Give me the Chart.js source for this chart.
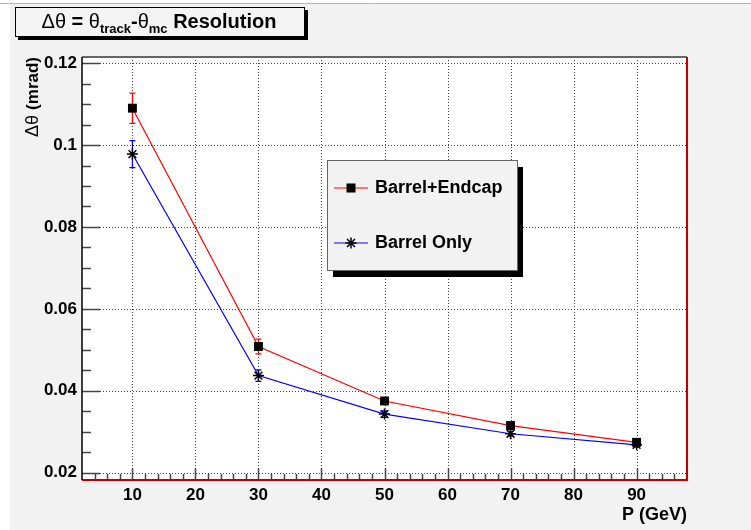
<!DOCTYPE html>
<html lang="en">
<head>
    <meta charset="UTF-8">
    <title>Theta Resolution</title>
    <script src="https://cdn.jsdelivr.net/npm/chart.js"></script>
    <style>
        body { margin: 0; background: #fff; }
        #resChart { display: block; }
    </style>
</head>
<body>
    <canvas id="resChart" width="751" height="530"></canvas>

    <script>
        // values
        const momentum = [10, 30, 50, 70, 90];
        const resBarrelEndcap = [0.1090, 0.0508, 0.0375, 0.0315, 0.0274];
        const errBarrelEndcap = [0.0037, 0.0018, 0.0007, 0.0005, 0.0004];
        const resBarrelOnly = [0.0978, 0.0437, 0.0343, 0.0295, 0.0268];
        const errBarrelOnly = [0.0033, 0.0014, 0.0008, 0.0006, 0.0005];
        const seriesLabels = ['Barrel+Endcap', 'Barrel Only'];
        const seriesColors = ['#ff0000', '#0000ff'];
        const xTicks = [10, 20, 30, 40, 50, 60, 70, 80, 90];
        const yTicks = [0.02, 0.04, 0.06, 0.08, 0.1, 0.12];

        const FONT = '"Liberation Sans", Arial, sans-serif';
        const errors = [errBarrelEndcap, errBarrelOnly];

        function drawMarker(ctx, style, x, y) {
            ctx.save();
            ctx.fillStyle = '#000';
            ctx.strokeStyle = '#000';
            ctx.lineWidth = 1.5;
            if (style === 'rect') {
                ctx.fillRect(x - 4.5, y - 4.5, 9, 9);
            } else {
                const r = 5.5;
                ctx.beginPath();
                ctx.moveTo(x - r, y); ctx.lineTo(x + r, y);
                ctx.moveTo(x, y - r); ctx.lineTo(x, y + r);
                const d = r * 0.72;
                ctx.moveTo(x - d, y - d); ctx.lineTo(x + d, y + d);
                ctx.moveTo(x - d, y + d); ctx.lineTo(x + d, y - d);
                ctx.stroke();
            }
            ctx.restore();
        }

        const rootStyle = {
            id: 'rootStyle',
            beforeDraw(chart) {
                const { ctx, chartArea: a, scales } = chart;
                const W = chart.width, H = chart.height;
                ctx.save();
                ctx.fillStyle = '#fff';
                ctx.fillRect(0, 0, W, H);
                ctx.fillStyle = '#f2f2f2';
                ctx.fillRect(10, 4, W - 10, H - 4);
                ctx.strokeStyle = '#b4b4b4';
                ctx.lineWidth = 1;
                ctx.beginPath(); ctx.moveTo(0, 3.5); ctx.lineTo(W, 3.5); ctx.stroke();

                ctx.fillStyle = '#fff';
                ctx.fillRect(a.left, a.top, a.width, a.height);

                // dotted grid
                ctx.strokeStyle = '#444';
                ctx.lineWidth = 1;
                ctx.setLineDash([1, 2]);
                xTicks.forEach(v => {
                    const px = Math.round(scales.x.getPixelForValue(v)) + 0.5;
                    ctx.beginPath(); ctx.moveTo(px, a.top); ctx.lineTo(px, a.bottom); ctx.stroke();
                });
                yTicks.forEach(v => {
                    const py = Math.round(scales.y.getPixelForValue(v)) + 0.5;
                    ctx.beginPath(); ctx.moveTo(a.left, py); ctx.lineTo(a.right, py); ctx.stroke();
                });
                ctx.restore();
            },
            beforeDatasetsDraw(chart) {
                const { ctx, scales } = chart;
                ctx.save();
                chart.data.datasets.forEach((ds, i) => {
                    ctx.strokeStyle = seriesColors[i];
                    ctx.lineWidth = 1.2;
                    ds.data.forEach((p, j) => {
                        const px = scales.x.getPixelForValue(p.x);
                        const top = scales.y.getPixelForValue(p.y + errors[i][j]);
                        const bot = scales.y.getPixelForValue(p.y - errors[i][j]);
                        ctx.beginPath();
                        ctx.moveTo(px, top); ctx.lineTo(px, bot);
                        ctx.moveTo(px - 3, top); ctx.lineTo(px + 3, top);
                        ctx.moveTo(px - 3, bot); ctx.lineTo(px + 3, bot);
                        ctx.stroke();
                    });
                });
                ctx.restore();
            },
            afterDraw(chart) {
                const { ctx, chartArea: a, scales } = chart;
                ctx.save();

                // tick marks
                ctx.strokeStyle = '#444';
                ctx.lineWidth = 1.5;
                for (let k = 4; k <= 24; k++) {
                    const py = Math.round(scales.y.getPixelForValue(k * 0.005)) + 0.5;
                    const len = k % 4 === 0 ? 18 : 9;
                    ctx.beginPath(); ctx.moveTo(a.left, py); ctx.lineTo(a.left + len, py); ctx.stroke();
                }
                for (let k = 2; k <= 48; k++) {
                    const v = k * 2;
                    const px = Math.round(scales.x.getPixelForValue(v)) + 0.5;
                    const len = v % 10 === 0 ? 12 : 6;
                    ctx.beginPath(); ctx.moveTo(px, a.bottom); ctx.lineTo(px, a.bottom - len); ctx.stroke();
                }

                // frame
                ctx.lineWidth = 2;
                ctx.strokeStyle = '#666';
                ctx.beginPath(); ctx.moveTo(a.left, a.top); ctx.lineTo(a.right, a.top); ctx.stroke();
                ctx.strokeStyle = '#c00000';
                ctx.beginPath(); ctx.moveTo(a.right, a.top); ctx.lineTo(a.right, a.bottom); ctx.lineTo(a.left, a.bottom); ctx.stroke();
                ctx.strokeStyle = '#000';
                ctx.lineWidth = 1.5;
                ctx.beginPath(); ctx.moveTo(a.left, a.top); ctx.lineTo(a.left, a.bottom); ctx.stroke();

                // legend box with shadow
                const lx = 327, ly = 160, lw = 190, lh = 110;
                ctx.fillStyle = '#000';
                ctx.fillRect(lx + 6, ly + 7, lw, lh);
                ctx.fillStyle = '#f2f2f2';
                ctx.fillRect(lx, ly, lw, lh);
                ctx.strokeStyle = '#666';
                ctx.lineWidth = 1;
                ctx.strokeRect(lx + 0.5, ly + 0.5, lw, lh);
                const rows = [188, 243];
                chart.data.datasets.forEach((ds, i) => {
                    const y = rows[i];
                    ctx.strokeStyle = seriesColors[i];
                    ctx.lineWidth = 1.2;
                    ctx.beginPath(); ctx.moveTo(334, y); ctx.lineTo(368, y); ctx.stroke();
                    drawMarker(ctx, ds.pointStyle, 351, y);
                    ctx.fillStyle = '#000';
                    ctx.font = 'bold 18px ' + FONT;
                    ctx.textAlign = 'left';
                    ctx.textBaseline = 'middle';
                    ctx.fillText(ds.label, 375, y);
                });

                // title box
                ctx.fillStyle = '#000';
                ctx.fillRect(18, 10, 290, 30);
                ctx.fillStyle = '#f4f4f4';
                ctx.fillRect(15, 7, 290, 30);
                ctx.strokeStyle = '#000';
                ctx.lineWidth = 1;
                ctx.strokeRect(15.5, 7.5, 289, 29);
                const pieces = [
                    { t: '\u0394\u03b8', f: '20px ' + FONT, dy: 0 },
                    { t: ' = ', f: 'bold 20px ' + FONT, dy: 0 },
                    { t: '\u03b8', f: '20px ' + FONT, dy: 0 },
                    { t: 'track', f: 'bold 13px ' + FONT, dy: 5 },
                    { t: '-', f: 'bold 20px ' + FONT, dy: 0 },
                    { t: '\u03b8', f: '20px ' + FONT, dy: 0 },
                    { t: 'mc', f: 'bold 13px ' + FONT, dy: 5 },
                    { t: ' Resolution', f: 'bold 20px ' + FONT, dy: 0 }
                ];
                let total = 0;
                pieces.forEach(p => { ctx.font = p.f; p.w = ctx.measureText(p.t).width; total += p.w; });
                let tx = 159 - total / 2;
                ctx.fillStyle = '#000';
                ctx.textAlign = 'left';
                ctx.textBaseline = 'alphabetic';
                pieces.forEach(p => {
                    ctx.font = p.f;
                    ctx.fillText(p.t, tx, 28 + p.dy);
                    tx += p.w;
                });

                // axis titles
                ctx.save();
                ctx.translate(33, 57);
                ctx.rotate(-Math.PI / 2);
                ctx.fillStyle = '#000';
                ctx.textAlign = 'left';
                ctx.textBaseline = 'middle';
                ctx.font = 'bold 17px ' + FONT;
                const wUnit = ctx.measureText('(mrad)').width;
                ctx.font = '18px ' + FONT;
                const wSym = ctx.measureText('\u0394\u03b8 ').width;
                ctx.fillText('\u0394\u03b8 ', -wUnit - wSym, 0);
                ctx.font = 'bold 17px ' + FONT;
                ctx.fillText('(mrad)', -wUnit, 0);
                ctx.restore();

                ctx.fillStyle = '#000';
                ctx.font = 'bold 18px ' + FONT;
                ctx.textAlign = 'right';
                ctx.textBaseline = 'alphabetic';
                ctx.fillText('P (GeV)', a.right, 520);

                ctx.restore();
            }
        };

        const ctx = document.getElementById('resChart').getContext('2d');
        const chart = new Chart(ctx, {
            type: 'line',
            data: {
                datasets: [
                    {
                        label: seriesLabels[0],
                        data: momentum.map((p, i) => ({ x: p, y: resBarrelEndcap[i] })),
                        borderColor: seriesColors[0],
                        borderWidth: 1.2,
                        pointStyle: 'rect',
                        pointRadius: 6.3,
                        pointBackgroundColor: '#000',
                        pointBorderColor: '#000',
                        pointBorderWidth: 0,
                        tension: 0,
                        fill: false
                    },
                    {
                        label: seriesLabels[1],
                        data: momentum.map((p, i) => ({ x: p, y: resBarrelOnly[i] })),
                        borderColor: seriesColors[1],
                        borderWidth: 1.2,
                        pointStyle: 'star',
                        pointRadius: 5.5,
                        pointBackgroundColor: '#000',
                        pointBorderColor: '#000',
                        pointBorderWidth: 1.5,
                        tension: 0,
                        fill: false
                    }
                ]
            },
            options: {
                responsive: false,
                animation: false,
                devicePixelRatio: 1,
                layout: { padding: { left: 0, top: 57, right: 64, bottom: 0 } },
                plugins: {
                    legend: { display: false },
                    tooltip: { enabled: false }
                },
                scales: {
                    x: {
                        type: 'linear',
                        min: 2,
                        max: 98,
                        grid: { display: false, drawTicks: false },
                        border: { display: false },
                        afterBuildTicks: s => { s.ticks = xTicks.map(v => ({ value: v })); },
                        ticks: {
                            autoSkip: false,
                            maxRotation: 0,
                            padding: 5,
                            color: '#000',
                            font: { family: FONT, size: 17, weight: 'bold' },
                            callback: v => String(v)
                        },
                        afterFit: s => { s.height = 50; }
                    },
                    y: {
                        min: 0.0182,
                        max: 0.1215,
                        grid: { display: false, drawTicks: false },
                        border: { display: false },
                        afterBuildTicks: s => { s.ticks = yTicks.map(v => ({ value: v })); },
                        ticks: {
                            autoSkip: false,
                            padding: 5,
                            color: '#000',
                            font: { family: FONT, size: 17, weight: 'bold' },
                            callback: v => String(Math.round(v * 100) / 100)
                        },
                        afterFit: s => { s.width = 82; }
                    }
                }
            },
            plugins: [rootStyle]
        });
    </script>
</body>
</html>
